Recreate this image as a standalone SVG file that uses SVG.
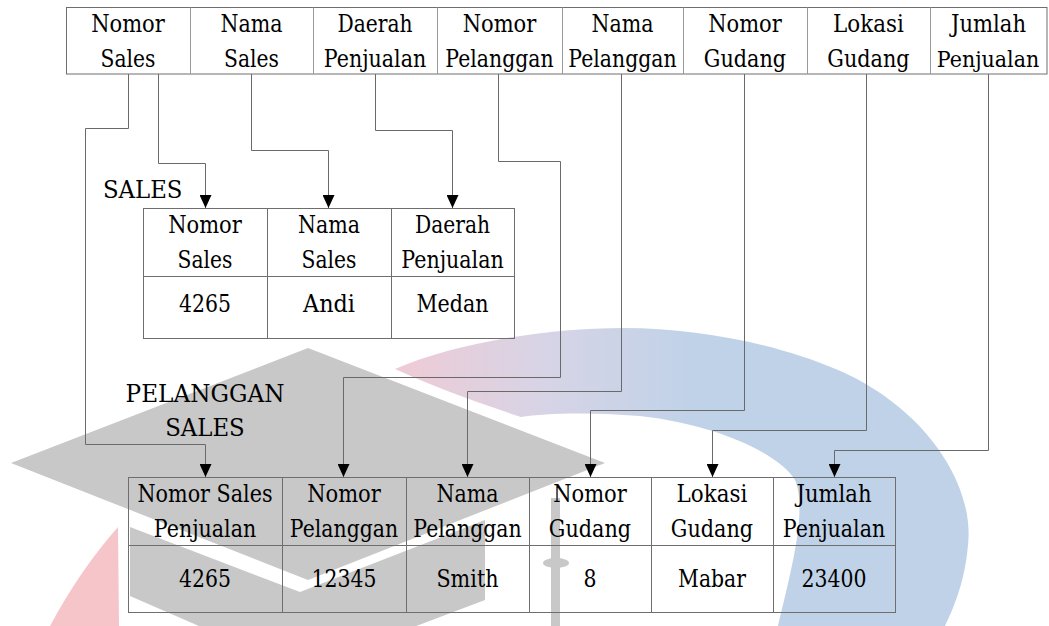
<svg xmlns="http://www.w3.org/2000/svg" width="1049" height="626" viewBox="0 0 1049 626">
<style>
.t{font-family:'DejaVu Serif','Liberation Serif',serif;font-size:23.5px;fill:#000;text-anchor:middle}
.ts{text-anchor:start}
.sm{font-size:22px}
.grid{fill:none;stroke:#6e6e6e;stroke-width:1}
.div{fill:none;stroke:#9a9a9a;stroke-width:1}
.conn{fill:none;stroke:#6a6a6a;stroke-width:1;marker-end:url(#arr)}
</style>
<defs>
<marker id="arr" markerUnits="userSpaceOnUse" markerWidth="13" markerHeight="12" viewBox="0 0 13 12" refX="13" refY="6" orient="auto">
<path d="M0,0 L13,6 L0,12 Z" fill="#000"/>
</marker>
<linearGradient id="arcg" gradientUnits="userSpaceOnUse" x1="395" y1="0" x2="700" y2="0">
<stop offset="0" stop-color="#efcbd5"/>
<stop offset="0.5" stop-color="#d6d4e6"/>
<stop offset="1" stop-color="#bfd2e8"/>
</linearGradient>
</defs>
<rect width="1049" height="626" fill="#fff"/>
<g id="watermark">
<path d="M395,369 C450,345 540,328 624,328 C700,328 780,345 838,370 C920,405 975,480 968,545 C965,580 955,605 945,626 L778,626 C790,575 808,510 795,480 C780,455 720,425 640,416 C590,412 545,413 521,417 C470,400 430,385 395,369 Z" fill="url(#arcg)"/>
<path d="M118,527 L119,626 L50,626 Q80,570 118,527 Z" fill="#f6c5c9"/>
<polygon points="11,463 308,348 605,463 308,580" fill="#c8c8c8"/>
<polygon points="130,527 300,592 485,520 485,600 300,670 130,596" fill="#c8c8c8"/>
<rect x="551" y="498" width="9" height="128" fill="#c8c8c8"/>
<ellipse cx="556" cy="563" rx="13" ry="5" fill="#c8c8c8"/>
</g>
<g id="source-table">
<rect class="grid" x="66.5" y="7.5" width="980.5" height="66.5"/>
<path class="div" d="M190.5,7.5V74M313.5,7.5V74M437.5,7.5V74M562.5,7.5V74M683.5,7.5V74M807.5,7.5V74M930.5,7.5V74"/>
<text class="t" x="128" y="32" textLength="73.7" lengthAdjust="spacingAndGlyphs">Nomor</text><text class="t" x="128" y="67" textLength="54.9" lengthAdjust="spacingAndGlyphs">Sales</text>
<text class="t" x="251.5" y="32" textLength="62.1" lengthAdjust="spacingAndGlyphs">Nama</text><text class="t" x="251.5" y="67" textLength="54.9" lengthAdjust="spacingAndGlyphs">Sales</text>
<text class="t" x="375" y="32" textLength="75.1" lengthAdjust="spacingAndGlyphs">Daerah</text><text class="t" x="375" y="67" textLength="102.5" lengthAdjust="spacingAndGlyphs">Penjualan</text>
<text class="t" x="499.5" y="32" textLength="73.7" lengthAdjust="spacingAndGlyphs">Nomor</text><text class="t" x="499.5" y="67" textLength="108.3" lengthAdjust="spacingAndGlyphs">Pelanggan</text>
<text class="t" x="622.5" y="32" textLength="62.1" lengthAdjust="spacingAndGlyphs">Nama</text><text class="t" x="622.5" y="67" textLength="108.3" lengthAdjust="spacingAndGlyphs">Pelanggan</text>
<text class="t" x="745" y="32" textLength="73.7" lengthAdjust="spacingAndGlyphs">Nomor</text><text class="t" x="745" y="67" textLength="82.3" lengthAdjust="spacingAndGlyphs">Gudang</text>
<text class="t" x="868.5" y="32" textLength="70.8" lengthAdjust="spacingAndGlyphs">Lokasi</text><text class="t" x="868.5" y="67" textLength="82.3" lengthAdjust="spacingAndGlyphs">Gudang</text>
<text class="t" x="988.5" y="32" textLength="75.1" lengthAdjust="spacingAndGlyphs">Jumlah</text><text class="t sm" x="988" y="67" textLength="102.5" lengthAdjust="spacingAndGlyphs">Penjualan</text>
</g>
<g id="sales-table">
<text class="t ts" x="103" y="198" textLength="79.5" lengthAdjust="spacingAndGlyphs">SALES</text>
<rect class="grid" x="143.5" y="208.5" width="371" height="130"/>
<path class="grid" d="M143.5,276.5H514.5M267.5,208.5V338.5M391.5,208.5V338.5"/>
<text class="t" x="205" y="233" textLength="73.7" lengthAdjust="spacingAndGlyphs">Nomor</text><text class="t" x="205" y="268" textLength="54.9" lengthAdjust="spacingAndGlyphs">Sales</text>
<text class="t" x="329" y="233" textLength="62.1" lengthAdjust="spacingAndGlyphs">Nama</text><text class="t" x="329" y="268" textLength="54.9" lengthAdjust="spacingAndGlyphs">Sales</text>
<text class="t" x="452.5" y="233" textLength="75.1" lengthAdjust="spacingAndGlyphs">Daerah</text><text class="t" x="452.5" y="268" textLength="102.5" lengthAdjust="spacingAndGlyphs">Penjualan</text>
<text class="t" x="205" y="312" textLength="52" lengthAdjust="spacingAndGlyphs">4265</text>
<text class="t" x="329" y="312" textLength="52" lengthAdjust="spacingAndGlyphs">Andi</text>
<text class="t" x="452.5" y="312" textLength="72.2" lengthAdjust="spacingAndGlyphs">Medan</text>
</g>
<g id="pelanggan-sales-table">
<text class="t" x="205" y="402" textLength="158.9" lengthAdjust="spacingAndGlyphs">PELANGGAN</text>
<text class="t" x="205" y="436" textLength="79.5" lengthAdjust="spacingAndGlyphs">SALES</text>
<rect class="grid" x="128.5" y="477.5" width="767" height="135"/>
<path class="grid" d="M128.5,545.5H895.5M282.5,477.5V612.5M406.5,477.5V612.5M529.5,477.5V612.5M651.5,477.5V612.5M773.5,477.5V612.5"/>
<text class="t" x="205" y="502" textLength="135" lengthAdjust="spacingAndGlyphs">Nomor Sales</text><text class="t" x="205" y="537" textLength="102.5" lengthAdjust="spacingAndGlyphs">Penjualan</text>
<text class="t" x="344" y="502" textLength="73.7" lengthAdjust="spacingAndGlyphs">Nomor</text><text class="t" x="344" y="537" textLength="108.3" lengthAdjust="spacingAndGlyphs">Pelanggan</text>
<text class="t" x="467.5" y="502" textLength="62.1" lengthAdjust="spacingAndGlyphs">Nama</text><text class="t" x="467.5" y="537" textLength="108.3" lengthAdjust="spacingAndGlyphs">Pelanggan</text>
<text class="t" x="590" y="502" textLength="73.7" lengthAdjust="spacingAndGlyphs">Nomor</text><text class="t" x="590" y="537" textLength="82.3" lengthAdjust="spacingAndGlyphs">Gudang</text>
<text class="t" x="712" y="502" textLength="70.8" lengthAdjust="spacingAndGlyphs">Lokasi</text><text class="t" x="712" y="537" textLength="82.3" lengthAdjust="spacingAndGlyphs">Gudang</text>
<text class="t" x="834" y="502" textLength="75.1" lengthAdjust="spacingAndGlyphs">Jumlah</text><text class="t" x="834" y="537" textLength="102.5" lengthAdjust="spacingAndGlyphs">Penjualan</text>
<text class="t" x="205" y="587" textLength="52" lengthAdjust="spacingAndGlyphs">4265</text>
<text class="t" x="344" y="587" textLength="65" lengthAdjust="spacingAndGlyphs">12345</text>
<text class="t" x="467.5" y="587" textLength="62.1" lengthAdjust="spacingAndGlyphs">Smith</text>
<text class="t" x="590" y="587" textLength="13" lengthAdjust="spacingAndGlyphs">8</text>
<text class="t" x="712" y="587" textLength="67.9" lengthAdjust="spacingAndGlyphs">Mabar</text>
<text class="t" x="834" y="587" textLength="65" lengthAdjust="spacingAndGlyphs">23400</text>
</g>
<g id="connectors">
<path class="conn" d="M128.5,74V128.5H85.5V444.5H205.5V477"/>
<path class="conn" d="M158.5,74V163.5H205.5V208"/>
<path class="conn" d="M251.5,74V150.5H328.5V208"/>
<path class="conn" d="M375.5,74V130.5H452.5V208"/>
<path class="conn" d="M498.5,74V161.5H560.5V377.5H343.5V477"/>
<path class="conn" d="M621.5,74V391.5H467.5V477"/>
<path class="conn" d="M744.5,74V410.5H590.5V477"/>
<path class="conn" d="M866.5,74V430.5H712.5V477"/>
<path class="conn" d="M988.5,74V450.5H834.5V477"/>
</g>
</svg>
